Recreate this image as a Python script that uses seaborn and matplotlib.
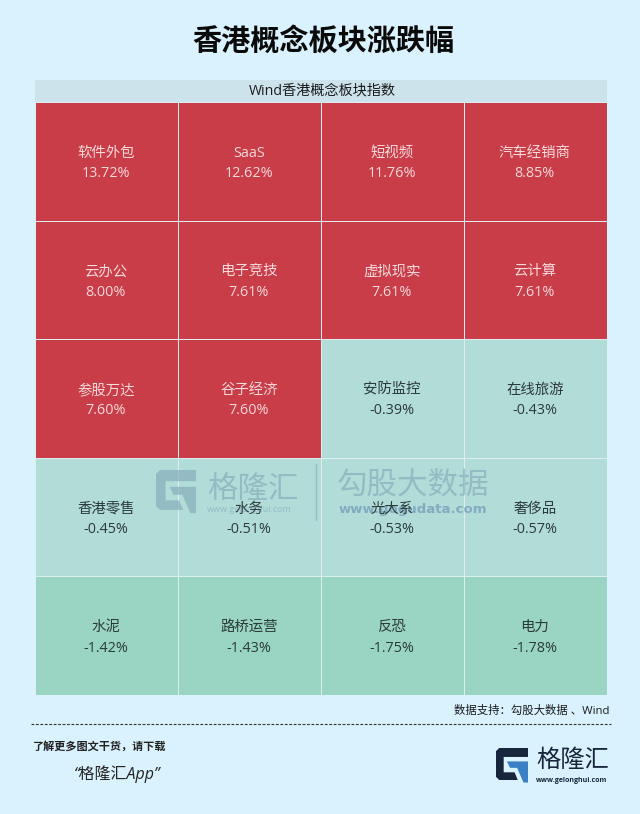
import numpy as np
import matplotlib.pyplot as plt
from matplotlib.colors import ListedColormap, BoundaryNorm
from matplotlib.patches import Polygon, Rectangle
import seaborn as sns

sns.set_theme(style="white")
plt.rcParams['font.family'] = ['Open Sans', 'Noto Sans CJK SC', 'DejaVu Sans']

names = ["软件外包", "SaaS", "短视频", "汽车经销商",
         "云办公", "电子竞技", "虚拟现实", "云计算",
         "参股万达", "谷子经济", "安防监控", "在线旅游",
         "香港零售", "水务", "光大系", "奢侈品",
         "水泥", "路桥运营", "反恐", "电力"]
changes = [13.72, 12.62, 11.76, 8.85,
           8.00, 7.61, 7.61, 7.61,
           7.60, 7.60, -0.39, -0.43,
           -0.45, -0.51, -0.53, -0.57,
           -1.42, -1.43, -1.75, -1.78]

bg = "#D9F2FE"
fig = plt.figure(figsize=(6.4, 8.14), dpi=100, facecolor=bg)

# page axes in pixel coords, for everything outside the grid
page = fig.add_axes([0, 0, 1, 1], zorder=0)
page.set_xlim(0, 640)
page.set_ylim(814, 0)
page.axis("off")

vals = np.array(changes).reshape(5, 4)
labels = np.array([f"{n}\n{c:.2f}%" for n, c in zip(names, changes)]).reshape(5, 4)

ax = fig.add_axes([35 / 640, 1 - 695 / 814, 572 / 640, 593 / 814], zorder=1)
cmap = ListedColormap(["#99D5C2", "#B2DCD8", "#C83D47"])
norm = BoundaryNorm([-100, -1, 0, 100], 3)
sns.heatmap(vals, ax=ax, cmap=cmap, norm=norm, cbar=False, annot=labels, fmt="",
            linewidths=0.7, linecolor="#DCEEF0", xticklabels=False, yticklabels=False,
            annot_kws={"fontsize": 10.4, "linespacing": 1.5})
for t, c in zip(ax.texts, changes):
    t.set_color("#F6DADC" if c > 0 else "#2B3A3A")
    t.set_x(t.get_position()[0] - 0.005)
    t.set_y(t.get_position()[1] + 0.018)


def logo(target, x, y, size, dark, blue, alpha=1, zorder=2):
    g = [(0.1, 0), (1, 0), (1, 0.28), (0.24, 0.28), (0.24, 0.76), (0.58, 0.76),
         (0.68, 1), (0.1, 1), (0, 0.9), (0, 0.1)]
    tail = [(0.34, 0.42), (1, 0.42), (1, 1.08), (0.86, 1.08), (0.66, 0.62), (0.44, 0.62)]
    for pts, col in ((g, dark), (tail, blue)):
        pts = [(x + a * size, y + b * size) for a, b in pts]
        target.add_patch(Polygon(pts, closed=True, fc=col, ec="none", alpha=alpha,
                                 transform=page.transData, zorder=zorder, clip_on=False))


# watermark sits under the cell text
wm = "#7FA6B8"
logo(ax, 156, 470, 40, wm, wm, alpha=0.6)
ax.text(207, 490, "格隆汇", transform=page.transData, fontsize=22, color=wm, alpha=0.6,
        va="center", ha="left", zorder=2, clip_on=False)
ax.text(207, 509, "www.gelonghui.com", transform=page.transData, fontsize=6.5, color=wm,
        alpha=0.6, va="center", ha="left", zorder=2, clip_on=False)
ax.plot([315.5, 315.5], [464, 520], transform=page.transData, color=wm, alpha=0.6, lw=1, zorder=2)
ax.text(337, 486, "勾股大数据", transform=page.transData, fontsize=22, color=wm, alpha=0.6,
        va="center", ha="left", zorder=2, clip_on=False)
ax.text(339, 509, "www.gogudata.com", transform=page.transData, fontsize=9.5, color="#6C97B8",
        alpha=0.7, va="center", ha="left", zorder=2, clip_on=False, fontweight="bold",
        family="DejaVu Sans")

# title and header band
page.text(323, 42, "香港概念板块涨跌幅", fontsize=21, fontweight="bold", color="#0A0A0A",
          ha="center", va="center")
page.add_patch(Rectangle((35, 80), 572, 22, fc="#CDE3EB", ec="none"))
page.text(322, 91, "Wind香港概念板块指数", fontsize=10.2, color="#1A1A1A", ha="center", va="center")

# footer
page.text(609, 711, "数据支持：勾股大数据 、Wind", fontsize=8.2, color="#1A1A1A", ha="right", va="center")
page.plot([31, 611], [724, 724], color="#333333", lw=0.8, ls=(0, (2.5, 1.5)))
page.text(33, 747, "了解更多图文干货，请下载", fontsize=8, color="#222222", style="italic",
          fontweight="bold", ha="left", va="center")
page.text(116, 774, "“格隆汇App”", fontsize=11.5, color="#222222", style="italic",
          ha="center", va="center")
logo(page, 496, 748, 32, "#17263C", "#3B7FC4")
page.text(536, 761, "格隆汇", fontsize=17.5, color="#17263C", ha="left", va="center")
page.text(536, 780, "www.gelonghui.com", fontsize=5, color="#17263C", fontweight="bold",
          ha="left", va="center")

fig.savefig("out.png", dpi=100, facecolor=bg)
